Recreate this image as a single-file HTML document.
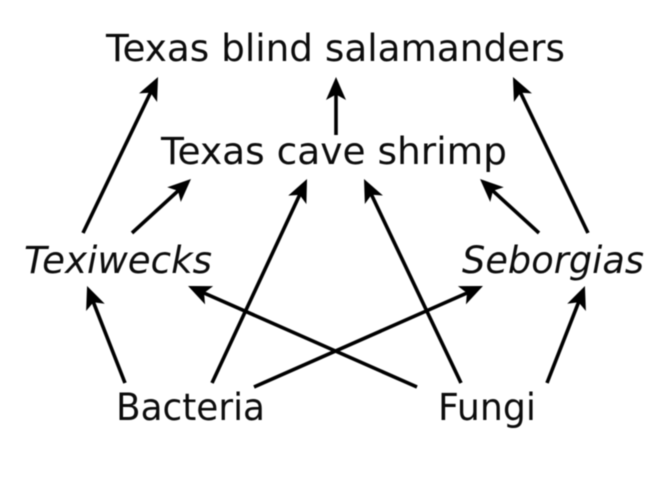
<!DOCTYPE html>
<html>
<head>
<meta charset="utf-8">
<style>
html,body{margin:0;padding:0;background:#fff;width:672px;height:487px;overflow:hidden}
svg{display:block;filter:blur(0.55px)}
text{font-family:"DejaVu Sans",sans-serif;font-size:37px;fill:#0c0c0c}
line{stroke:#000;stroke-width:3.6}
</style>
</head>
<body>
<svg width="672" height="487" viewBox="0 0 672 487" xmlns="http://www.w3.org/2000/svg">
<defs>
<marker id="a" markerUnits="userSpaceOnUse" markerWidth="30" markerHeight="30" refX="14" refY="12" orient="auto">
<path d="M24,12 L1,2 L6.5,12 L1,22 Z" fill="#000"/>
</marker>
</defs>
<text x="106" y="61" textLength="459" lengthAdjust="spacingAndGlyphs">Texas blind salamanders</text>
<text x="161" y="164" textLength="346" lengthAdjust="spacingAndGlyphs">Texas cave shrimp</text>
<text x="24" y="273" font-style="italic" textLength="188" lengthAdjust="spacingAndGlyphs">Texiwecks</text>
<text x="462" y="273" font-style="italic" textLength="182" lengthAdjust="spacingAndGlyphs">Seborgias</text>
<text x="116" y="420" textLength="149" lengthAdjust="spacingAndGlyphs">Bacteria</text>
<text x="438" y="420" textLength="98" lengthAdjust="spacingAndGlyphs">Fungi</text>
<g>
<line x1="83" y1="233" x2="153.7" y2="86" marker-end="url(#a)"/>
<line x1="336" y1="135" x2="336" y2="87" marker-end="url(#a)"/>
<line x1="132" y1="233" x2="183.6" y2="185.8" marker-end="url(#a)"/>
<line x1="212" y1="383" x2="302.8" y2="188.1" marker-end="url(#a)"/>
<line x1="461" y1="383" x2="368.3" y2="188" marker-end="url(#a)"/>
<line x1="539" y1="233" x2="487.4" y2="185.8" marker-end="url(#a)"/>
<line x1="588" y1="233" x2="517.3" y2="86" marker-end="url(#a)"/>
<line x1="125" y1="383" x2="90.7" y2="295.3" marker-end="url(#a)"/>
<line x1="417" y1="387" x2="197.2" y2="290" marker-end="url(#a)"/>
<line x1="254" y1="387" x2="473.8" y2="290" marker-end="url(#a)"/>
<line x1="547" y1="383" x2="581.3" y2="295.3" marker-end="url(#a)"/>
</g>
</svg>
</body>
</html>
